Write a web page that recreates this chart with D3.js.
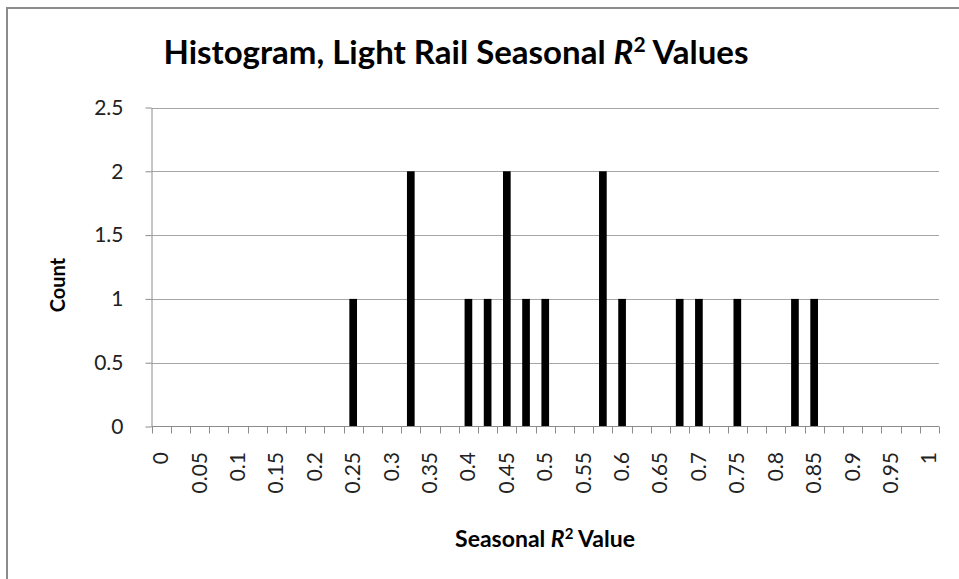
<!DOCTYPE html>
<html>
<head>
<meta charset="utf-8">
<script src="https://cdn.jsdelivr.net/npm/d3@7"></script>
<style>
  html, body { margin: 0; padding: 0; background: #fff; }
  svg { display: block; font-family: Lato, "Open Sans", sans-serif; }
</style>
</head>
<body>
<div id="chart"></div>
<script>
// bins of the seasonal R^2 value, step 0.025
const categories = ["0","0.025","0.05","0.075","0.1","0.125","0.15","0.175","0.2","0.225",
  "0.25","0.275","0.3","0.325","0.35","0.375","0.4","0.425","0.45","0.475",
  "0.5","0.525","0.55","0.575","0.6","0.625","0.65","0.675","0.7","0.725",
  "0.75","0.775","0.8","0.825","0.85","0.875","0.9","0.925","0.95","0.975","1"];
const counts = [0,0,0,0,0,0,0,0,0,0,
  1,0,0,2,0,0,1,1,2,1,
  1,0,0,2,1,0,0,1,1,0,
  1,0,0,1,1,0,0,0,0,0,0];
const xTickLabels = ["0","0.05","0.1","0.15","0.2","0.25","0.3","0.35","0.4","0.45","0.5",
  "0.55","0.6","0.65","0.7","0.75","0.8","0.85","0.9","0.95","1"];
const yTicks = [0, 0.5, 1, 1.5, 2, 2.5];

const W = 959, H = 579;
const plotLeft = 151.5, plotRight = 939, plotTop = 107.5, plotBottom = 426.5;

const svg = d3.select("#chart").append("svg")
    .attr("width", W)
    .attr("height", H);

// chart border (runs off the right and bottom edges)
svg.append("rect")
    .attr("x", 7).attr("y", 8)
    .attr("width", 1000).attr("height", 1000)
    .attr("fill", "#fff")
    .attr("stroke", "#8c8c8c")
    .attr("stroke-width", 2);

const x = d3.scaleBand()
    .domain(categories)
    .range([plotLeft, plotRight])
    .paddingInner(0.6)
    .paddingOuter(0.3);

const y = d3.scaleLinear()
    .domain([0, 2.5])
    .range([plotBottom, plotTop]);

// gridlines
svg.append("g")
    .selectAll("line")
    .data(yTicks.filter(d => d > 0))
    .enter()
    .append("line")
    .attr("x1", plotLeft).attr("x2", plotRight)
    .attr("y1", d => Math.round(y(d)) + 0.5)
    .attr("y2", d => Math.round(y(d)) + 0.5)
    .attr("stroke", "#a6a6a6")
    .attr("stroke-width", 1);

// y axis
const yAxis = svg.append("g")
    .attr("transform", `translate(${plotLeft},0)`)
    .call(d3.axisLeft(y).tickValues(yTicks).tickFormat(d3.format("")).tickSize(6).tickSizeOuter(0).tickPadding(22));
yAxis.select(".domain").attr("stroke", "#8c8c8c");
yAxis.selectAll(".tick line").attr("stroke", "#8c8c8c");
yAxis.selectAll("text")
    .style("font-size", "21px")
    .style("font-family", "Lato, sans-serif")
    .style("fill", "#222");

// bars
svg.append("g")
    .selectAll("rect")
    .data(categories.map((c, i) => ({ c: c, v: counts[i] })).filter(d => d.v > 0))
    .enter()
    .append("rect")
    .attr("x", d => x(d.c))
    .attr("y", d => y(d.v))
    .attr("width", x.bandwidth())
    .attr("height", d => y(0) - y(d.v))
    .attr("fill", "#000");

// x axis line and boundary ticks
const step = x.step();
const xAxis = svg.append("g");
xAxis.append("line")
    .attr("x1", plotLeft).attr("x2", plotRight)
    .attr("y1", plotBottom).attr("y2", plotBottom)
    .attr("stroke", "#8c8c8c");
xAxis.selectAll(".bound")
    .data(d3.range(categories.length + 1))
    .enter()
    .append("line")
    .attr("class", "bound")
    .attr("x1", i => Math.round(plotLeft + i * step) + 0.5)
    .attr("x2", i => Math.round(plotLeft + i * step) + 0.5)
    .attr("y1", plotBottom)
    .attr("y2", plotBottom + 7)
    .attr("stroke", "#8c8c8c");

xAxis.selectAll(".xlab")
    .data(xTickLabels)
    .enter()
    .append("text")
    .attr("class", "xlab")
    .attr("transform", d => `translate(${x(d) + x.bandwidth() / 2 + 7},452) rotate(-90)`)
    .attr("text-anchor", "end")
    .style("font-size", "21px")
    .style("fill", "#222")
    .text(d => d);

// title
const title = svg.append("text")
    .attr("x", 456).attr("y", 64)
    .attr("text-anchor", "middle")
    .style("font-size", "33px")
    .style("font-weight", "bold")
    .style("fill", "#000");
title.append("tspan").text("Histogram, Light Rail Seasonal ");
title.append("tspan").style("font-style", "italic").text("R");
title.append("tspan").attr("dy", -12).style("font-size", "21px").text("2");
title.append("tspan").attr("dy", 12).text(" Values");

// x axis title
const xt = svg.append("text")
    .attr("x", 545).attr("y", 547)
    .attr("text-anchor", "middle")
    .style("font-size", "23px")
    .style("font-weight", "bold")
    .style("fill", "#000");
xt.append("tspan").text("Seasonal ");
xt.append("tspan").style("font-style", "italic").text("R");
xt.append("tspan").attr("dy", -8).style("font-size", "15px").text("2");
xt.append("tspan").attr("dy", 8).text(" Value");

// y axis title
svg.append("text")
    .attr("transform", "translate(65,285) rotate(-90)")
    .attr("text-anchor", "middle")
    .style("font-size", "20px")
    .style("font-weight", "bold")
    .style("fill", "#000")
    .text("Count");
</script>
</body>
</html>
